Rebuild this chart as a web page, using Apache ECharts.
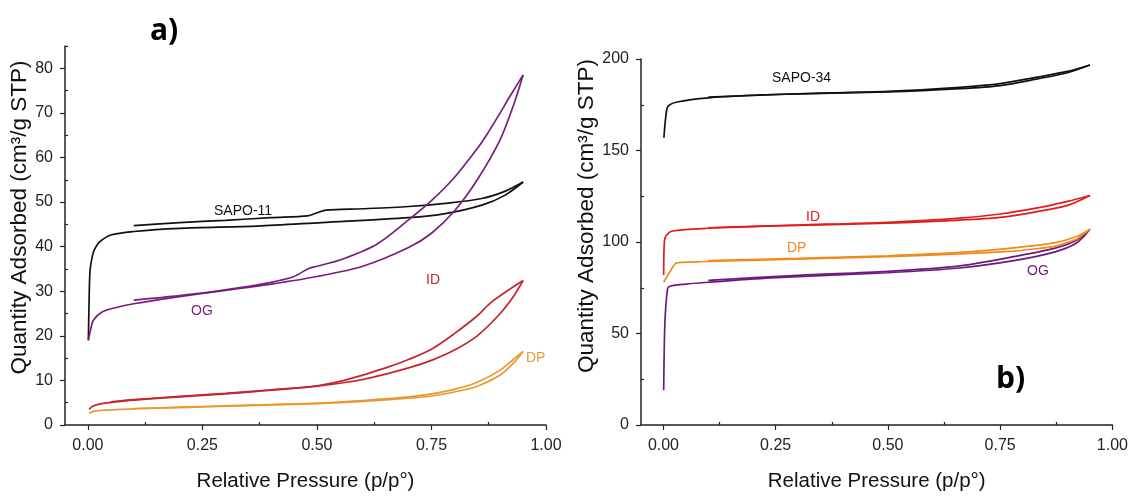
<!DOCTYPE html>
<html>
<head>
<meta charset="utf-8">
<script src="https://cdn.jsdelivr.net/npm/echarts@6/dist/echarts.min.js"></script>
<style>
  html, body { margin: 0; padding: 0; background: #fff; }
  #chart { width: 1131px; height: 497px; }
</style>
</head>
<body>
<div id="chart"></div>
<script>
// tick positions
var xTicks = [0, 0.25, 0.5, 0.75, 1];
var xMinor = [0.125, 0.375, 0.625, 0.875];
var yTicksA = [0, 10, 20, 30, 40, 50, 60, 70, 80];
var yMinorA = [5, 15, 25, 35, 45, 55, 65, 75, 85];
var yTicksB = [0, 50, 100, 150, 200];
var yMinorB = [25, 75, 125, 175];

// panel a) SAPO-11 family, [p/p0, quantity]
var sapo11Ads = [[0.001,19],[0.003,30],[0.005,35],[0.01,38],[0.015,39.5],[0.025,41],[0.05,42.6],[0.1,43.4],[0.2,44.1],[0.37,44.6],[0.51,45.4],[0.7,46.5],[0.78,47.4],[0.86,49.3],[0.91,51.5],[0.95,54.5]];
var sapo11Des = [[0.95,54.5],[0.91,52.4],[0.86,50.8],[0.78,49.7],[0.7,49],[0.6,48.5],[0.52,48.2],[0.5,47.6],[0.48,46.9],[0.4,46.5],[0.3,45.9],[0.2,45.4],[0.1,44.7]];
var og11Ads = [[0.001,19],[0.005,21],[0.012,23.5],[0.03,25.3],[0.06,26.3],[0.1,27.2],[0.2,28.8],[0.3,30.2],[0.4,31.6],[0.5,33.3],[0.6,35.6],[0.7,39.8],[0.75,43],[0.8,48],[0.85,55],[0.9,64],[0.93,72],[0.95,78.5]];
var og11Des = [[0.95,78.5],[0.92,73.5],[0.9,70],[0.87,65],[0.85,62],[0.8,55.5],[0.75,50.3],[0.7,46],[0.63,40.5],[0.55,37],[0.5,35.6],[0.48,35],[0.45,33.3],[0.4,32],[0.3,30.3],[0.2,29],[0.1,28]];
var id11Ads = [[0.003,3.5],[0.01,4.2],[0.03,4.8],[0.06,5.2],[0.1,5.6],[0.2,6.3],[0.3,7],[0.4,7.8],[0.5,8.7],[0.6,10.2],[0.7,12.8],[0.75,14.5],[0.8,16.8],[0.85,20],[0.9,25],[0.93,29],[0.95,32.4]];
var id11Des = [[0.95,32.4],[0.92,30.4],[0.88,27.5],[0.85,24.5],[0.8,20.5],[0.75,17],[0.7,14.7],[0.65,12.8],[0.6,11.2],[0.55,9.8],[0.5,8.8],[0.4,7.9],[0.3,7.1],[0.2,6.4],[0.1,5.7],[0.05,5.2]];
var dp11Ads = [[0.003,2.6],[0.01,3],[0.03,3.3],[0.1,3.6],[0.2,3.9],[0.3,4.2],[0.4,4.5],[0.5,4.8],[0.6,5.3],[0.7,6],[0.75,6.5],[0.8,7.4],[0.85,8.7],[0.9,11.2],[0.93,14],[0.95,16.5]];
var dp11Des = [[0.95,16.5],[0.93,14.8],[0.9,12.3],[0.85,9.6],[0.8,8],[0.75,7],[0.7,6.3],[0.6,5.5],[0.5,4.9],[0.4,4.6],[0.3,4.3],[0.2,4],[0.1,3.7]];

// panel b) SAPO-34 family
var sapo34Ads = [[0.001,157],[0.005,168],[0.01,174],[0.03,176.5],[0.1,178.8],[0.25,180.6],[0.5,182],[0.66,183.8],[0.75,185.5],[0.83,189],[0.9,192.5],[0.95,196.7]];
var sapo34Des = [[0.95,196.7],[0.9,193.2],[0.83,190],[0.75,186.5],[0.66,184.5],[0.5,182.3],[0.3,181],[0.1,179.2]];
var id34Ads = [[0.0005,82],[0.002,100],[0.006,103.5],[0.02,106],[0.1,107.5],[0.25,108.8],[0.5,110.3],[0.66,112],[0.75,113.5],[0.83,116.5],[0.9,120],[0.95,125.4]];
var id34Des = [[0.95,125.4],[0.9,122.2],[0.83,118.5],[0.75,115.3],[0.66,113],[0.5,110.8],[0.3,109.3],[0.1,107.8]];
var dp34Ads = [[0.0005,78],[0.028,88.5],[0.08,89.2],[0.25,90.4],[0.5,92],[0.66,93.5],[0.78,95],[0.87,97.5],[0.92,101.5],[0.95,107]];
var dp34Des = [[0.95,107],[0.92,103],[0.87,99.5],[0.78,96.8],[0.66,94.3],[0.5,92.5],[0.3,91],[0.1,89.8]];
var og34Ads = [[0.0005,19],[0.002,45],[0.004,60],[0.008,72],[0.012,75.5],[0.05,77],[0.1,78],[0.25,80.5],[0.5,83.2],[0.66,85.8],[0.78,89.8],[0.87,94.5],[0.92,99.5],[0.95,107]];
var og34Des = [[0.95,107],[0.92,101],[0.87,96.5],[0.78,92],[0.66,87],[0.5,84],[0.3,81.8],[0.1,79]];

var FONT = 'Liberation Sans, Arial, sans-serif';

function mainX(grid){
  return {
    type:'value', gridIndex:grid, position:'bottom', min:-0.05, max:1,
    name:'Relative Pressure (p/p°)', nameLocation:'middle', nameGap:46,
    nameTextStyle:{color:'#111', fontSize:20.5, fontFamily:FONT},
    axisLine:{show:true, onZero:false, lineStyle:{color:'#222', width:1.5}},
    axisTick:{show:true, length:5, customValues:xTicks, lineStyle:{color:'#222', width:1.2}},
    axisLabel:{customValues:xTicks, margin:13, color:'#222', fontSize:16, fontFamily:FONT,
      formatter:function(v){ return v.toFixed(2); }},
    splitLine:{show:false}
  };
}
function minorX(grid){
  return {
    type:'value', gridIndex:grid, position:'bottom', min:-0.05, max:1,
    axisLine:{show:false, onZero:false},
    axisTick:{show:true, inside:true, length:3, customValues:xMinor, lineStyle:{color:'#222', width:1.2}},
    axisLabel:{show:false}, splitLine:{show:false}
  };
}
function mainY(grid, max, ticks, gap, shift){
  return {
    type:'value', gridIndex:grid, position:'left', min:0, max:max,
    name:'Quantity Adsorbed (cm³/g STP)', nameLocation:'middle', nameGap:gap,
    nameTextStyle:{color:'#111', fontSize:22.5, fontFamily:FONT, padding:[0, 0, 0, shift]},
    axisLine:{show:true, onZero:false, lineStyle:{color:'#222', width:1.5}},
    axisTick:{show:true, length:5, customValues:ticks, lineStyle:{color:'#222', width:1.2}},
    axisLabel:{customValues:ticks, margin:12, color:'#222', fontSize:16, fontFamily:FONT},
    splitLine:{show:false}
  };
}
function minorY(grid, max, ticks){
  return {
    type:'value', gridIndex:grid, position:'left', min:0, max:max,
    axisLine:{show:false, onZero:false},
    axisTick:{show:true, inside:true, length:3, customValues:ticks, lineStyle:{color:'#222', width:1.2}},
    axisLabel:{show:false}, splitLine:{show:false}
  };
}
function iso(data, color, axis, smooth){
  return {
    type:'line', xAxisIndex:axis, yAxisIndex:axis, data:data,
    showSymbol:false, smooth:smooth === undefined ? 0.3 : smooth, animation:false,
    lineStyle:{color:color, width:1.7}
  };
}
function txt(x, y, s, color, size, bold){
  return {
    type:'text', left:x, top:y,
    style:{text:s, fill:color, fontSize:size, fontFamily:bold ? 'Open Sans, Liberation Sans, sans-serif' : FONT,
      fontWeight:bold ? 'bold' : 'normal'}
  };
}

var cBlack = '#111111';
var cPurpleA = '#7a1d7e', cRedA = '#c4262e', cOrangeA = '#e8982e';
var cPurpleB = '#6c1a7c', cRedB = '#e31b1b', cOrangeB = '#f08a1c';

var chart = echarts.init(document.getElementById('chart'), null, {renderer:'canvas'});
chart.setOption({
  backgroundColor:'#ffffff',
  animation:false,
  grid:[
    {left:65, right:585, top:46, bottom:64},
    {left:641, right:18, top:59, bottom:62}
  ],
  xAxis:[mainX(0), mainX(1), minorX(0), minorX(1)],
  yAxis:[mainY(0, 85, yTicksA, 33, 36), mainY(1, 200, yTicksB, 37, 52), minorY(0, 85, yMinorA), minorY(1, 200, yMinorB)],
  series:[
    iso(sapo11Ads, cBlack, 0), iso(sapo11Des, cBlack, 0),
    iso(og11Ads, cPurpleA, 0), iso(og11Des, cPurpleA, 0),
    iso(id11Ads, cRedA, 0), iso(id11Des, cRedA, 0),
    iso(dp11Ads, cOrangeA, 0), iso(dp11Des, cOrangeA, 0),
    iso(sapo34Ads, cBlack, 1), iso(sapo34Des, cBlack, 1),
    iso(og34Ads, cPurpleB, 1), iso(og34Des, cPurpleB, 1),
    iso(dp34Ads, cOrangeB, 1, 0.1), iso(dp34Des, cOrangeB, 1),
    iso(id34Ads, cRedB, 1), iso(id34Des, cRedB, 1)
  ],
  graphic:[
    txt(150, 16, 'a)', '#000', 30, true),
    txt(996, 364, 'b)', '#000', 30, true),
    txt(214, 204, 'SAPO-11', '#111', 14),
    txt(191, 304, 'OG', cPurpleA, 14),
    txt(426, 273, 'ID', cRedA, 14),
    txt(526, 351, 'DP', cOrangeA, 14),
    txt(772, 71, 'SAPO-34', '#111', 14),
    txt(806, 210, 'ID', cRedB, 14),
    txt(787, 241, 'DP', cOrangeB, 14),
    txt(1027, 264, 'OG', cPurpleB, 14)
  ]
});
</script>
</body>
</html>
